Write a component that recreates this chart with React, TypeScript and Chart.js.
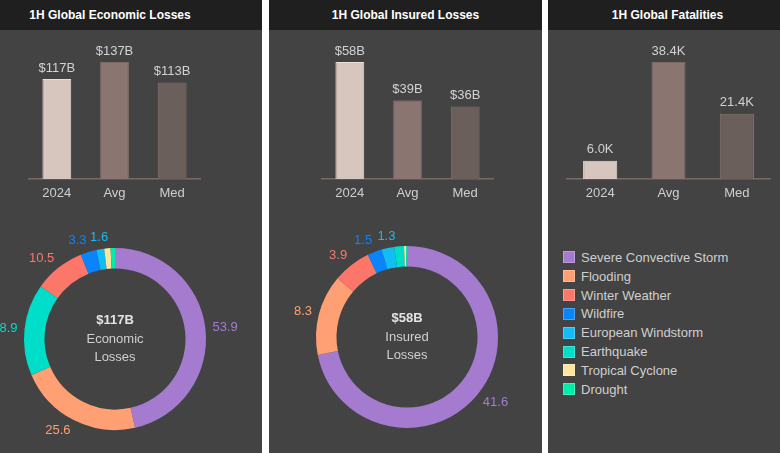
import React, { useEffect, useRef } from "react";
import { Chart, registerables } from "chart.js";

Chart.register(...registerables);

// ---------- data ----------
const barCategories = ["2024", "Avg", "Med"];
const economicValues = [117, 137, 113];
const economicBarLabels = ["$117B", "$137B", "$113B"];
const insuredValues = [58, 39, 36];
const insuredBarLabels = ["$58B", "$39B", "$36B"];
const fatalityValues = [6.0, 38.4, 21.4];
const fatalityBarLabels = ["6.0K", "38.4K", "21.4K"];

const barFill = ["#d6c6be", "#8a7571", "#6b5f5b"];
const barEdge = ["#e9ded8", "#7c6864", "#85766f"];

const perilNames = [
  "Severe Convective Storm",
  "Flooding",
  "Winter Weather",
  "Wildfire",
  "European Windstorm",
  "Earthquake",
  "Tropical Cyclone",
  "Drought",
];
const perilColors = [
  "#a57bd0",
  "#ff9f74",
  "#fc776a",
  "#0a84fb",
  "#12bdf5",
  "#00ddc9",
  "#fbe5a0",
  "#00eda9",
];

const economicPerils = [
  "Severe Convective Storm",
  "Flooding",
  "Earthquake",
  "Winter Weather",
  "Wildfire",
  "European Windstorm",
  "Tropical Cyclone",
  "Drought",
];
const economicPerilValues = [53.9, 25.6, 18.9, 10.5, 3.3, 1.6, 1.3, 0.9];
const economicCenter = ["$117B", "Economic", "Losses"];

const insuredPerils = [
  "Severe Convective Storm",
  "Flooding",
  "Winter Weather",
  "Wildfire",
  "European Windstorm",
  "Earthquake",
  "Tropical Cyclone",
  "Drought",
];
const insuredPerilValues = [41.6, 8.3, 3.9, 1.5, 1.3, 1.0, 0.2, 0.1];
const insuredCenter = ["$58B", "Insured", "Losses"];

const FONT = "'Liberation Sans', Arial, Helvetica, sans-serif";
const PANEL_BG = "#434343";
const TITLE_BG = "#1f1f1f";

// ---------- bar chart ----------
function BarChart(props: {
  values: number[];
  labels: string[];
  left: number;
  width: number;
}) {
  const ref = useRef<HTMLCanvasElement>(null);
  useEffect(() => {
    if (!ref.current) return;
    const valueLabels = props.labels;
    const labelPlugin = {
      id: "barValueLabels",
      afterDatasetsDraw(chart: any) {
        const ctx = chart.ctx;
        const meta = chart.getDatasetMeta(0);
        ctx.save();
        ctx.font = `13px ${FONT}`;
        ctx.fillStyle = "#d2d2d2";
        ctx.textAlign = "center";
        ctx.textBaseline = "middle";
        meta.data.forEach((bar: any, i: number) => {
          ctx.fillText(valueLabels[i], bar.x, bar.y - 11);
        });
        ctx.restore();
      },
    };
    const chart = new Chart(ref.current, {
      type: "bar",
      data: {
        labels: barCategories,
        datasets: [
          {
            data: props.values,
            backgroundColor: barFill,
            borderColor: barEdge,
            borderWidth: 1,
            barPercentage: 0.5,
            categoryPercentage: 1,
          },
        ],
      },
      options: {
        responsive: false,
        animation: false,
        events: [],
        layout: { padding: 0 },
        plugins: { legend: { display: false }, tooltip: { enabled: false } },
        scales: {
          x: {
            grid: { display: false, drawTicks: false },
            border: { display: true, color: "#7a6a65", width: 1.5 },
            ticks: {
              color: "#cfcfcf",
              font: { size: 13, family: FONT },
              padding: 7,
            },
            afterFit: (s: any) => {
              s.height = 24;
            },
          },
          y: {
            display: false,
            min: 0,
            max: (Math.max(...props.values) * 149) / 117,
          },
        },
      },
      plugins: [labelPlugin],
    });
    return () => chart.destroy();
  }, []);
  return (
    <canvas
      ref={ref}
      width={props.width}
      height={173}
      style={{ position: "absolute", left: props.left, top: 30 }}
    />
  );
}

// ---------- doughnut ----------
function Donut(props: {
  names: string[];
  values: number[];
  center: string[];
  cx: number;
  cy: number;
  minLabel: number;
}) {
  const ref = useRef<HTMLCanvasElement>(null);
  const W = 300;
  const H = 240;
  useEffect(() => {
    if (!ref.current) return;
    const colors = props.names.map((n) => perilColors[perilNames.indexOf(n)]);
    const centerLines = props.center;
    const minLabel = props.minLabel;
    const plugin = {
      id: "donutLabels",
      afterDatasetsDraw(chart: any) {
        const ctx = chart.ctx;
        const meta = chart.getDatasetMeta(0);
        ctx.save();
        ctx.font = `13px ${FONT}`;
        meta.data.forEach((arc: any, i: number) => {
          const v = props.values[i];
          if (v < minLabel) return;
          const mid = (arc.startAngle + arc.endAngle) / 2;
          const c = Math.cos(mid);
          const s = Math.sin(mid);
          const r = arc.outerRadius + 7;
          const px = arc.x + c * r;
          const py = arc.y + s * r + s * 5;
          ctx.textAlign = c > 0.25 ? "left" : c < -0.25 ? "right" : "center";
          ctx.textBaseline = "middle";
          ctx.fillStyle = colors[i];
          ctx.fillText(v.toFixed(1), px, py);
        });
        const x = meta.data[0].x;
        const y = meta.data[0].y;
        ctx.textAlign = "center";
        ctx.textBaseline = "middle";
        ctx.fillStyle = "#e4e4e4";
        ctx.font = `bold 13px ${FONT}`;
        ctx.fillText(centerLines[0], x, y - 19);
        ctx.fillStyle = "#cfcfcf";
        ctx.font = `13px ${FONT}`;
        ctx.fillText(centerLines[1], x, y);
        ctx.fillText(centerLines[2], x, y + 18);
        ctx.restore();
      },
    };
    const chart = new Chart(ref.current, {
      type: "doughnut",
      data: {
        labels: props.names,
        datasets: [
          {
            data: props.values,
            backgroundColor: colors,
            borderWidth: 0,
          },
        ],
      },
      options: {
        responsive: false,
        animation: false,
        events: [],
        radius: 91,
        cutout: "77.5%",
        layout: { padding: 0 },
        plugins: { legend: { display: false }, tooltip: { enabled: false } },
      } as any,
      plugins: [plugin],
    });
    return () => chart.destroy();
  }, []);
  return (
    <canvas
      ref={ref}
      width={W}
      height={H}
      style={{
        position: "absolute",
        left: props.cx - W / 2,
        top: props.cy - H / 2,
      }}
    />
  );
}

function Title(props: { text: string; left: number; width: number }) {
  return (
    <div
      style={{
        position: "absolute",
        left: props.left,
        top: 0,
        width: props.width,
        height: 30,
        lineHeight: "30px",
        textAlign: "center",
        color: "#ffffff",
        fontFamily: FONT,
        fontWeight: "bold",
        fontSize: 12,
        whiteSpace: "nowrap",
      }}
    >
      {props.text}
    </div>
  );
}

function Panel(props: { left: number; width: number; children: any }) {
  return (
    <div
      style={{
        position: "absolute",
        left: props.left,
        top: 0,
        width: props.width,
        height: 453,
        background: PANEL_BG,
        overflow: "hidden",
      }}
    >
      <div
        style={{
          position: "absolute",
          left: 0,
          top: 0,
          width: props.width,
          height: 30,
          background: TITLE_BG,
        }}
      />
      {props.children}
    </div>
  );
}

export default function App() {
  useEffect(() => {
    document.body.style.margin = "0";
  }, []);
  return (
    <div
      style={{
        position: "fixed",
        left: 0,
        top: 0,
        width: 780,
        height: 453,
        background: "#ffffff",
        overflow: "hidden",
      }}
    >
      <Panel left={0} width={262}>
        <Title text="1H Global Economic Losses" left={0} width={220} />
        <BarChart values={economicValues} labels={economicBarLabels} left={28} width={173} />
        <Donut
          names={economicPerils}
          values={economicPerilValues}
          center={economicCenter}
          cx={115}
          cy={339}
          minLabel={1.5}
        />
      </Panel>
      <Panel left={269} width={273}>
        <Title text="1H Global Insured Losses" left={0} width={273} />
        <BarChart values={insuredValues} labels={insuredBarLabels} left={52} width={173} />
        <Donut
          names={insuredPerils}
          values={insuredPerilValues}
          center={insuredCenter}
          cx={138}
          cy={337}
          minLabel={1.2}
        />
      </Panel>
      <Panel left={548} width={232}>
        <Title text="1H Global Fatalities" left={0} width={239} />
        <BarChart values={fatalityValues} labels={fatalityBarLabels} left={18} width={205} />
        {perilNames.map((name, i) => (
          <div
            key={name}
            style={{
              position: "absolute",
              left: 15,
              top: 257.3 + i * 18.86 - 9,
              height: 18,
              display: "flex",
              alignItems: "center",
              fontFamily: FONT,
              fontSize: 13,
              color: "#cfcfcf",
              whiteSpace: "nowrap",
            }}
          >
            <div
              style={{
                width: 10,
                height: 10,
                background: perilColors[i],
                border: "1px solid rgba(255,255,255,0.25)",
                marginRight: 6,
              }}
            />
            {name}
          </div>
        ))}
      </Panel>
    </div>
  );
}
